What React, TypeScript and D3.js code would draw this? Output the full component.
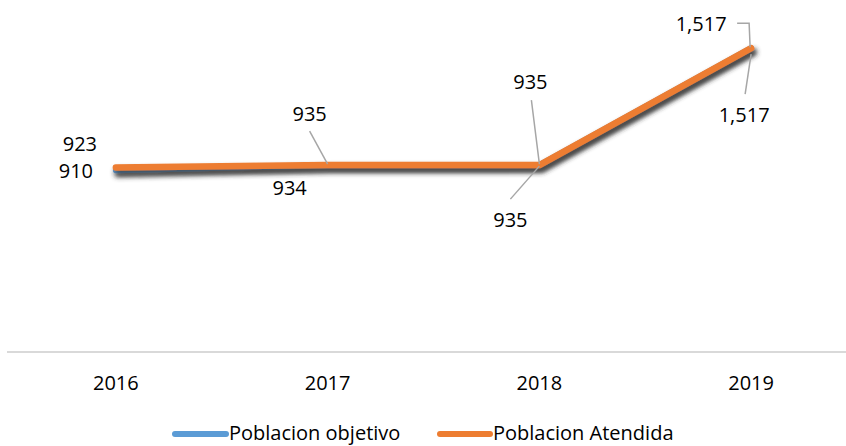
import React from "react";
import * as d3 from "d3";

const years = ["2016", "2017", "2018", "2019"];
const objetivo = [910, 934, 935, 1517];
const atendida = [923, 935, 935, 1517];
const seriesNames = ["Poblacion objetivo", "Poblacion Atendida"];

const W = 846;
const H = 446;
const FONT = "'Open Sans', 'Noto Sans', sans-serif";
const BLUE = "#5b9bd5";
const ORANGE = "#ed7d31";
const LEADER = "#a6a6a6";

// label layout relative to each point: [dx, dy, leader points...]
const topLayout: { dx: number; dy: number; leader: [number, number][] }[] = [
  { dx: -36, dy: -17, leader: [] },
  { dx: -18, dy: -44, leader: [[-18, -34], [0, -1]] },
  { dx: -9, dy: -76, leader: [[-8, -65], [0, -1]] },
  { dx: -50, dy: -17, leader: [[-14, -25], [-2, -25], [-1, -1]] },
];
const bottomLayout: { dx: number; dy: number; leader: [number, number][] }[] = [
  { dx: -40, dy: 8, leader: [] },
  { dx: -38, dy: 30, leader: [] },
  { dx: -29, dy: 62, leader: [[-29, 34], [0, 1]] },
  { dx: -7, dy: 74, leader: [[-6, 46], [0, 6]] },
];

export default function App() {
  const x = d3.scaleBand<string>().domain(years).range([10, 857]);
  const cx = (c: string) => (x(c) ?? 0) + x.bandwidth() / 2;
  const y = d3.scaleLinear().domain([0, 1600]).range([353, 31.5]);
  const fmt = d3.format(",");

  const line = d3
    .line<number>()
    .x((_, i) => cx(years[i]))
    .y((v) => y(v));

  const leaderPath = d3.line<[number, number]>();

  const renderLabels = (
    vals: number[],
    layout: typeof topLayout,
    key: string
  ) =>
    vals.map((v, i) => {
      const px = cx(years[i]);
      const py = y(v);
      const l = layout[i];
      return (
        <g key={key + i}>
          {l.leader.length > 0 && (
            <path
              d={leaderPath(l.leader.map(([a, b]) => [px + a, py + b] as [number, number])) ?? ""}
              fill="none"
              stroke={LEADER}
              strokeWidth={1.5}
            />
          )}
          <text
            x={px + l.dx}
            y={py + l.dy}
            textAnchor="middle"
            fontFamily={FONT}
            fontSize={20}
            fill="#000"
          >
            {fmt(v)}
          </text>
        </g>
      );
    });

  return (
    <svg
      width={W}
      height={H}
      style={{ position: "absolute", left: 0, top: 0, background: "#fff" }}
    >
      <defs>
        <filter id="shadow" x="-10%" y="-50%" width="120%" height="200%">
          <feDropShadow dx="2" dy="4" stdDeviation="2.5" floodColor="#3a3a3a" floodOpacity="0.85" />
        </filter>
      </defs>
      <rect width={W} height={H} fill="#fff" />
      <line x1={7} x2={846} y1={352} y2={352} stroke="#d9d9d9" strokeWidth={2} />
      {years.map((c) => (
        <text
          key={c}
          x={cx(c)}
          y={390}
          textAnchor="middle"
          fontFamily={FONT}
          fontSize={20}
          fill="#000"
        >
          {c}
        </text>
      ))}
      <path
        d={line(objetivo) ?? ""}
        fill="none"
        stroke={BLUE}
        strokeWidth={6}
        strokeLinecap="round"
        strokeLinejoin="round"
        filter="url(#shadow)"
      />
      <path
        d={line(atendida) ?? ""}
        fill="none"
        stroke={ORANGE}
        strokeWidth={6.5}
        strokeLinecap="round"
        strokeLinejoin="round"
        filter="url(#shadow)"
      />
      {renderLabels(atendida, topLayout, "t")}
      {renderLabels(objetivo, bottomLayout, "b")}
      <g>
        <line x1={175} x2={226} y1={434} y2={434} stroke={BLUE} strokeWidth={6} strokeLinecap="round" />
        <text x={229} y={440} fontFamily={FONT} fontSize={20} fill="#000">
          {seriesNames[0]}
        </text>
        <line x1={440} x2={490} y1={434} y2={434} stroke={ORANGE} strokeWidth={6} strokeLinecap="round" />
        <text x={493} y={440} fontFamily={FONT} fontSize={20} fill="#000">
          {seriesNames[1]}
        </text>
      </g>
    </svg>
  );
}
